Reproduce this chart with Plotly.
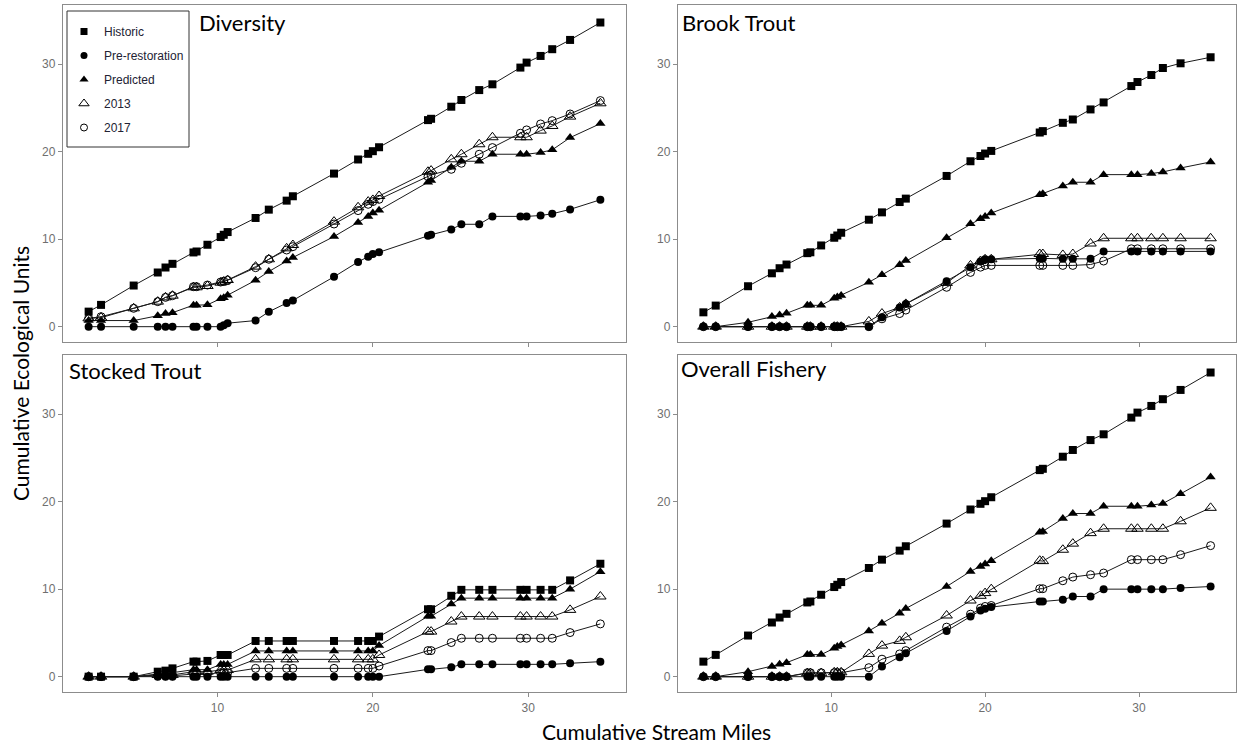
import plotly.graph_objects as go

# Cumulative stream miles of the restored sites (shared by every panel)
miles = [1.7, 2.5, 4.6, 6.15, 6.65, 7.1, 8.45, 8.65, 9.35, 10.2, 10.4, 10.65,
         12.45, 13.3, 14.45, 14.85, 17.5, 19.05, 19.7, 20.0, 20.4, 23.55, 23.75,
         25.05, 25.7, 26.85, 27.7, 29.5, 29.9, 30.8, 31.55, 32.7, 34.65]

# Diversity
div_historic = [1.72, 2.49, 4.7, 6.19, 6.76, 7.18, 8.48, 8.59, 9.36, 10.24, 10.5, 10.81,
                12.42, 13.37, 14.4, 14.9, 17.49, 19.1, 19.75, 20.05, 20.5, 23.6, 23.75,
                25.13, 25.9, 27.03, 27.69, 29.6, 30.17, 30.93, 31.7, 32.76, 34.75]
div_pre = [0, 0, 0, 0, 0, 0, 0, 0, 0, 0, 0.15, 0.4, 0.7, 1.7, 2.7, 3.0, 5.7, 7.4, 8.0,
           8.3, 8.5, 10.4, 10.5, 11.1, 11.7, 11.7, 12.6, 12.6, 12.6, 12.7, 12.9, 13.4, 14.5]
div_predicted = [0.7, 0.7, 0.7, 1.25, 1.5, 1.6, 2.46, 2.46, 2.5, 3.2, 3.3, 3.6, 5.3, 6.3,
                 7.5, 7.9, 10.3, 11.9, 12.6, 13.0, 13.3, 16.5, 16.7, 18.2, 18.9, 18.9,
                 19.7, 19.7, 19.7, 19.9, 20.2, 21.6, 23.2]
div_2013 = [0.95, 1.03, 2.1, 2.86, 3.35, 3.54, 4.5, 4.5, 4.65, 5.03, 5.14, 5.33, 6.86,
            7.7, 8.95, 9.33, 12.0, 13.64, 14.29, 14.48, 14.93, 17.7, 17.83, 19.12, 19.7,
            20.84, 21.64, 21.64, 21.64, 22.4, 22.93, 24.0, 25.52]
div_2017 = [0.95, 1.14, 2.1, 2.86, 3.35, 3.54, 4.57, 4.57, 4.76, 5.1, 5.2, 5.3, 6.74,
            7.7, 8.76, 9.14, 11.73, 13.26, 13.98, 14.29, 14.55, 17.14, 17.33, 17.98,
            18.67, 19.7, 20.46, 22.1, 22.48, 23.16, 23.54, 24.3, 25.83]

# Brook Trout
bt_historic = [1.64, 2.41, 4.62, 6.1, 6.68, 7.1, 8.4, 8.5, 9.28, 10.16, 10.42, 10.73,
               12.22, 13.06, 14.24, 14.63, 17.22, 18.9, 19.5, 19.78, 20.08, 22.18, 22.34,
               23.29, 23.67, 24.82, 25.62, 27.49, 27.95, 28.75, 29.55, 30.09, 30.78]
bt_pre = [0, 0, 0, 0, 0, 0, 0, 0, 0, 0, 0, 0, 0, 1.07, 2.2, 2.6, 5.19, 6.8, 7.45, 7.7,
          7.7, 7.8, 7.8, 7.75, 7.75, 7.75, 8.6, 8.6, 8.6, 8.6, 8.6, 8.6, 8.6]
bt_predicted = [0, 0, 0.5, 1.15, 1.34, 1.53, 2.44, 2.44, 2.44, 3.24, 3.4, 3.55, 5.08,
                5.92, 7.07, 7.56, 10.16, 11.76, 12.33, 12.6, 12.98, 15.08, 15.2, 16.07,
                16.5, 16.5, 17.37, 17.37, 17.37, 17.49, 17.68, 18.13, 18.82]
bt_2013 = [0, 0, 0, 0, 0, 0, 0, 0, 0, 0, 0, 0, 0.6, 1.5, 2.2, 2.6, 5.0, 7.0, 7.5, 7.7,
           7.7, 8.3, 8.3, 8.2, 8.3, 9.5, 10.1, 10.1, 10.1, 10.1, 10.1, 10.1, 10.1]
bt_2017 = [0, 0, 0, 0, 0, 0, 0, 0, 0, 0, 0, 0, 0, 0.9, 1.5, 1.9, 4.5, 6.2, 6.8, 7.0,
           7.0, 7.0, 7.0, 7.0, 7.0, 7.1, 7.5, 8.9, 8.9, 8.9, 8.9, 8.9, 8.9]

# Stocked Trout
st_historic = [0, 0, 0, 0.57, 0.69, 0.95, 1.72, 1.72, 1.8, 2.48, 2.48, 2.48, 4.08, 4.08,
               4.08, 4.08, 4.08, 4.08, 4.08, 4.08, 4.58, 7.7, 7.7, 9.24, 9.92, 9.92,
               9.92, 9.92, 9.92, 9.92, 9.92, 11.0, 12.9]
st_pre = [0, 0, 0, 0, 0, 0, 0, 0, 0, 0, 0, 0, 0, 0, 0, 0, 0, 0, 0, 0, 0, 0.84, 0.84,
          1.07, 1.41, 1.41, 1.41, 1.41, 1.41, 1.41, 1.41, 1.53, 1.72]
st_predicted = [0, 0, 0, 0.3, 0.35, 0.46, 0.8, 0.8, 0.8, 1.4, 1.4, 1.4, 2.94, 2.94,
                2.94, 2.94, 2.94, 2.94, 2.94, 2.94, 3.55, 6.9, 6.9, 8.3, 8.97, 8.97,
                8.97, 8.97, 8.97, 8.97, 8.97, 10.0, 12.0]
st_2013 = [0, 0, 0, 0.2, 0.2, 0.2, 0.57, 0.57, 0.57, 0.76, 0.76, 0.76, 1.98, 1.98, 1.98,
           1.98, 1.98, 1.98, 1.98, 1.98, 2.48, 5.15, 5.15, 6.3, 6.87, 6.87, 6.87, 6.87,
           6.87, 6.87, 6.87, 7.63, 9.16]
st_2017 = [0, 0, 0, 0.1, 0.1, 0.1, 0.3, 0.3, 0.3, 0.46, 0.46, 0.46, 0.95, 0.95, 0.95,
           0.95, 0.95, 0.95, 0.95, 0.95, 1.22, 2.98, 2.98, 3.9, 4.39, 4.39, 4.39, 4.39,
           4.39, 4.39, 4.39, 5.04, 6.03]

# Overall Fishery
of_historic = [1.72, 2.49, 4.7, 6.19, 6.76, 7.18, 8.48, 8.59, 9.36, 10.24, 10.5, 10.81,
               12.42, 13.37, 14.4, 14.9, 17.49, 19.1, 19.75, 20.05, 20.5, 23.6, 23.75,
               25.13, 25.9, 27.03, 27.69, 29.6, 30.17, 30.93, 31.7, 32.76, 34.75]
of_pre = [0, 0, 0, 0, 0, 0, 0, 0, 0, 0, 0, 0, 0, 1.15, 2.22, 2.68, 5.23, 6.87, 7.56,
          7.75, 7.95, 8.59, 8.59, 8.79, 9.16, 9.16, 10.0, 10.0, 10.0, 10.0, 10.0, 10.13, 10.3]
of_predicted = [0, 0, 0.57, 1.15, 1.42, 1.6, 2.52, 2.52, 2.52, 3.25, 3.44, 3.63, 5.23,
                6.11, 7.26, 7.79, 10.3, 12.03, 12.6, 12.87, 13.25, 16.5, 16.6, 18.06,
                18.64, 18.64, 19.47, 19.47, 19.47, 19.6, 19.78, 20.89, 22.8]
of_2013 = [0, 0, 0, 0, 0, 0, 0.4, 0.4, 0.4, 0.5, 0.5, 0.5, 2.6, 3.55, 4.09, 4.5, 6.99,
           8.7, 9.24, 9.55, 10.0, 13.25, 13.2, 14.5, 15.2, 16.4, 16.9, 16.9, 16.9, 16.9,
           16.9, 17.75, 19.29]
of_2017 = [0, 0, 0, 0, 0, 0, 0.45, 0.45, 0.45, 0.45, 0.45, 0.45, 1.03, 2.0, 2.6, 2.98,
           5.66, 7.14, 7.83, 8.02, 8.13, 10.05, 10.05, 10.96, 11.38, 11.65, 11.84, 13.37,
           13.37, 13.37, 13.37, 13.94, 14.97]

series_names = ["Historic", "Pre-restoration", "Predicted", "2013", "2017"]
panel_titles = ["Diversity", "Brook Trout", "Stocked Trout", "Overall Fishery"]
panels = [
    [div_historic, div_pre, div_predicted, div_2013, div_2017],
    [bt_historic, bt_pre, bt_predicted, bt_2013, bt_2017],
    [st_historic, st_pre, st_predicted, st_2013, st_2017],
    [of_historic, of_pre, of_predicted, of_2013, of_2017],
]
x_ticks = [10, 20, 30]
y_ticks = [0, 10, 20, 30]

# marker style per series: symbol, size, fill colour
marker_styles = {
    "Historic": dict(symbol="square", size=8, color="black"),
    "Pre-restoration": dict(symbol="circle", size=8, color="black"),
    "Predicted": dict(symbol="triangle-up", size=9, color="black"),
    "2013": dict(symbol="triangle-up-open", size=10, color="black", line=dict(width=1, color="black")),
    "2017": dict(symbol="circle-open", size=8, color="black", line=dict(width=1, color="black")),
}
legend_marker_styles = {
    "Historic": dict(symbol="square", size=7, color="black"),
    "Pre-restoration": dict(symbol="circle", size=7, color="black"),
    "Predicted": dict(symbol="triangle-up", size=8, color="black"),
    "2013": dict(symbol="triangle-up-open", size=9, color="black", line=dict(width=1, color="black")),
    "2017": dict(symbol="circle-open", size=7, color="black", line=dict(width=1, color="black")),
}

W, H = 1239, 746
# panel frames in pixels: (left, right, top, bottom)
frames = [(63, 626, 5, 342), (678, 1236, 5, 342), (63, 626, 355, 692), (678, 1236, 355, 692)]

fig = go.Figure()

draw_order = ["Historic", "Predicted", "2013", "2017", "Pre-restoration"]
for p, values in enumerate(panels):
    ax = "" if p == 0 else str(p + 1)
    for name in draw_order:
        ys = values[series_names.index(name)]
        fig.add_trace(go.Scatter(
            x=miles, y=ys, mode="lines+markers", name=name, showlegend=False,
            line=dict(color="#1a1a1a", width=1),
            marker=marker_styles[name],
            xaxis="x" + ax, yaxis="y" + ax,
        ))

# legend entries (markers only)
for name in series_names:
    fig.add_trace(go.Scatter(
        x=[None], y=[None], mode="markers", name=name, legendgroup=name,
        marker=legend_marker_styles[name], xaxis="x", yaxis="y",
    ))

axis_common = dict(
    showline=True, mirror=True, linecolor="#8c8c8c", linewidth=1.3,
    ticks="outside", ticklen=4, tickcolor="#8c8c8c", tickwidth=1,
    showgrid=False, zeroline=False,
    tickfont=dict(family="Arial", size=12, color="#6f6f6f"),
)

layout = dict(
    width=W, height=H, margin=dict(l=0, r=0, t=0, b=0),
    paper_bgcolor="white", plot_bgcolor="white",
    showlegend=True,
    legend=dict(
        x=64 / W, y=1 - 17 / H, xanchor="left", yanchor="top",
        borderwidth=0, bgcolor="rgba(0,0,0,0)",
        font=dict(family="Arial", size=12, color="#222233"),
        tracegroupgap=5, traceorder="grouped",
    ),
)

for p, (l, r, t, b) in enumerate(frames):
    ax = "" if p == 0 else str(p + 1)
    layout["xaxis" + ax] = dict(
        axis_common, domain=[l / W, r / W], anchor="y" + ax,
        range=[0.05, 36.3], tickvals=x_ticks, showticklabels=p >= 2,
    )
    layout["yaxis" + ax] = dict(
        axis_common, domain=[1 - b / H, 1 - t / H], anchor="x" + ax,
        range=[-1.75, 36.75], tickvals=y_ticks,
    )

fig.update_layout(**layout)

# frame around the legend
fig.add_shape(
    type="rect", xref="paper", yref="paper",
    x0=67 / W, x1=189 / W, y0=1 - 147 / H, y1=1 - 11 / H,
    line=dict(color="#333333", width=1), fillcolor="white", layer="below",
)

title_pos = [(197, 22), (680, 22), (67, 370), (679, 368)]
for title, (tx, ty) in zip(panel_titles, title_pos):
    fig.add_annotation(
        text=title, x=tx / W, y=1 - ty / H, xref="paper", yref="paper",
        xanchor="left", yanchor="middle", showarrow=False,
        font=dict(family="Lato", size=22, color="black"),
    )

fig.add_annotation(
    text="Cumulative Ecological Units", x=20 / W, y=1 - 374 / H,
    xref="paper", yref="paper", textangle=-90, showarrow=False,
    xanchor="center", yanchor="middle",
    font=dict(family="Lato", size=21, color="black"),
)
fig.add_annotation(
    text="Cumulative Stream Miles", x=656 / W, y=1 - 731 / H,
    xref="paper", yref="paper", showarrow=False,
    xanchor="center", yanchor="middle",
    font=dict(family="Lato", size=21, color="black"),
)

fig.write_html("out.html")
